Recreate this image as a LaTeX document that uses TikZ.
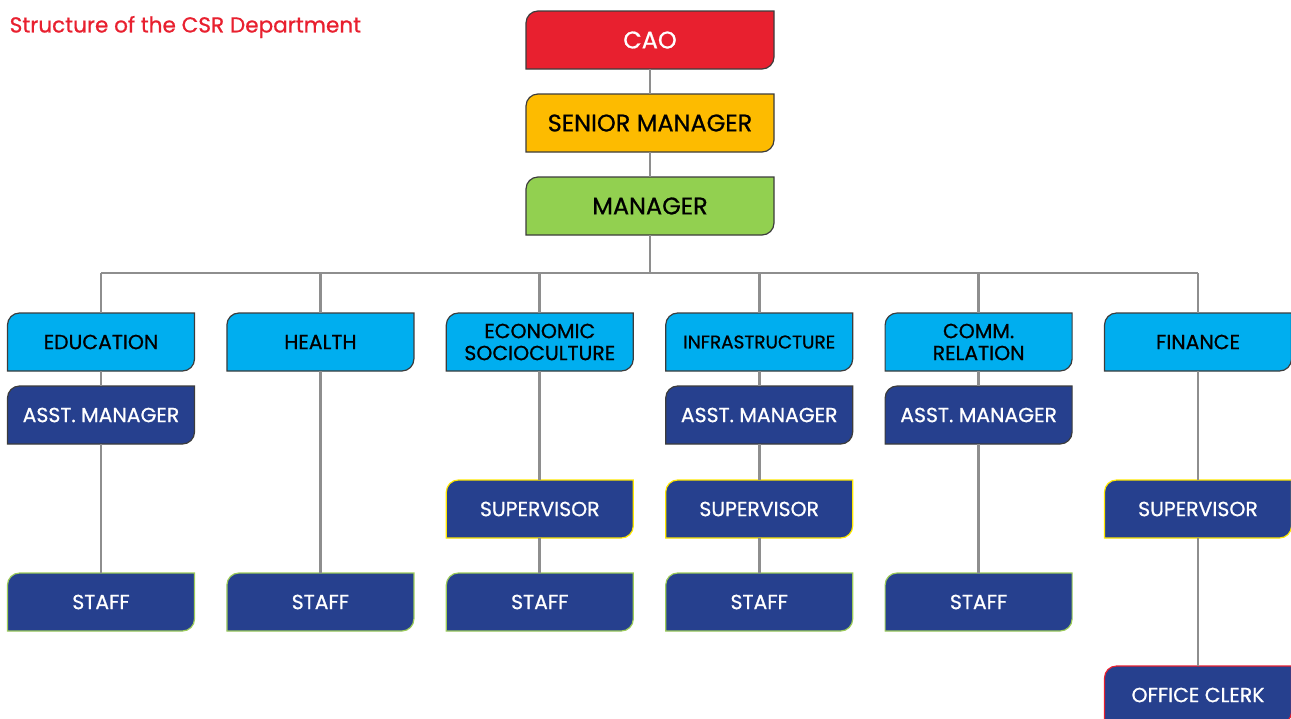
\documentclass[tikz,border=0pt]{standalone}
\usepackage{fontspec}
\setmainfont{Poppins}[FakeBold=0.8]
\usetikzlibrary{positioning, backgrounds}
\definecolor{caored}{HTML}{E8202F}
\definecolor{seniorgold}{HTML}{FDBB00}
\definecolor{managergreen}{HTML}{92D050}
\definecolor{deptcyan}{HTML}{00AEEF}
\definecolor{staffnavy}{HTML}{26408E}
\definecolor{linkgray}{HTML}{8E8E8E}
\definecolor{edgegray}{HTML}{3C3C3C}
\definecolor{supyellow}{HTML}{FFE800}
\definecolor{staffgreen}{HTML}{9CCB5A}
\tikzset{
  box/.style={minimum height=43.5pt, inner sep=0, outer sep=0, align=center, font=\fontsize{15.3}{16.5}\selectfont},
  topbox/.style={box, minimum width=186pt, font=\fontsize{18}{20}\selectfont},
  unit/.style={box, minimum width=140.25pt},
  dept/.style={unit},
  lower/.style={unit, text=white},
  link/.style={draw=linkgray, line width=2pt}
}

\begin{document}
\begin{tikzpicture}[x=0.75pt, y=-0.75pt]
    \useasboundingbox (0,0) rectangle (1291,718);
    \node[anchor=west, text=caored, font=\fontsize{16.2}{18}\selectfont] (title) at (5,27) {Structure of the CSR Department};
    % top chain
    \node[topbox, text=white] (cao) at (650,40) {CAO};
    \node[topbox, below=18.75pt of cao] (senior) {SENIOR MANAGER};
    \node[topbox, below=18.75pt of senior] (manager) {MANAGER};
    \coordinate[below=28.5pt of manager] (bus);
    % departments
    \node[dept] (education) at (101,342) {EDUCATION};
    \node[dept, right=24.3pt of education] (health) {HEALTH};
    \node[dept, right=24.3pt of health] (economic) {ECONOMIC\\SOCIOCULTURE};
    \node[dept, right=24.3pt of economic, font=\fontsize{13.8}{16}\selectfont] (infra) {INFRASTRUCTURE};
    \node[dept, right=24.3pt of infra] (comm) {COMM.\\RELATION};
    \node[dept, right=24.3pt of comm] (finance) {FINANCE};
    % assistant managers
    \node[lower, below=11.25pt of education] (eduasst) {ASST. MANAGER};
    \node[lower, below=11.25pt of infra] (infraasst) {ASST. MANAGER};
    \node[lower, below=11.25pt of comm] (commasst) {ASST. MANAGER};
    % supervisors
    \node[lower, below=81.75pt of economic] (ecosup) {SUPERVISOR};
    \node[lower, below=27pt of infraasst] (infrasup) {SUPERVISOR};
    \node[lower, below=81.75pt of finance] (finsup) {SUPERVISOR};
    % staff
    \node[lower, below=96.75pt of eduasst] (edustaff) {STAFF};
    \node[lower, below=151.5pt of health] (healthstaff) {STAFF};
    \node[lower, below=26.25pt of ecosup] (ecostaff) {STAFF};
    \node[lower, below=26.25pt of infrasup] (infrastaff) {STAFF};
    \node[lower, below=96.75pt of commasst] (commstaff) {STAFF};
    \node[lower, below=96pt of finsup] (clerk) {OFFICE CLERK};
    % box shapes
    \begin{scope}[on background layer]
      \foreach \n/\f/\e in {cao/caored/edgegray, senior/seniorgold/edgegray, manager/managergreen/edgegray,
          education/deptcyan/edgegray, health/deptcyan/edgegray, economic/deptcyan/edgegray,
          infra/deptcyan/edgegray, comm/deptcyan/edgegray, finance/deptcyan/edgegray,
          eduasst/staffnavy/edgegray, infraasst/staffnavy/edgegray, commasst/staffnavy/edgegray,
          ecosup/staffnavy/supyellow, infrasup/staffnavy/supyellow, finsup/staffnavy/supyellow,
          edustaff/staffnavy/staffgreen, healthstaff/staffnavy/staffgreen, ecostaff/staffnavy/staffgreen,
          infrastaff/staffnavy/staffgreen, commstaff/staffnavy/staffgreen, clerk/staffnavy/caored}
        \draw[fill=\f, draw=\e, line width=0.9pt] (\n.south west) -- ([yshift=-9pt]\n.north west)
          arc[start angle=180, end angle=90, radius=9pt] -- (\n.north east)
          -- ([yshift=9pt]\n.south east) arc[start angle=0, end angle=-90, radius=9pt] -- cycle;
    \end{scope}
    % connectors
    \draw[link] (cao) -- (senior);
    \draw[link] (senior) -- (manager);
    \draw[link] (manager) -- (bus);
    \draw[link] (education.north |- bus) -- (finance.north |- bus);
    \foreach \d in {education, health, economic, infra, comm, finance}
      \draw[link] (\d.north |- bus) -- (\d);
    \draw[link] (education) -- (eduasst);
    \draw[link] (eduasst) -- (edustaff);
    \draw[link] (health) -- (healthstaff);
    \draw[link] (economic) -- (ecosup);
    \draw[link] (ecosup) -- (ecostaff);
    \draw[link] (infra) -- (infraasst);
    \draw[link] (infraasst) -- (infrasup);
    \draw[link] (infrasup) -- (infrastaff);
    \draw[link] (comm) -- (commasst);
    \draw[link] (commasst) -- (commstaff);
    \draw[link] (finance) -- (finsup);
    \draw[link] (finsup) -- (clerk);
\end{tikzpicture}
\end{document}
